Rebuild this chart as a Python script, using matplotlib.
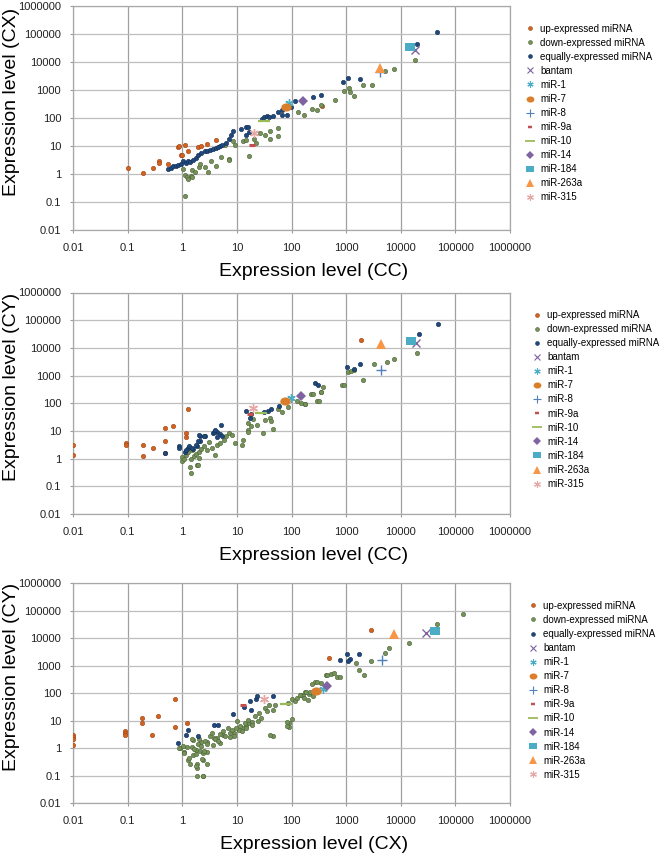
import matplotlib
matplotlib.use("Agg")
import matplotlib.pyplot as plt
from matplotlib.lines import Line2D
from matplotlib.path import Path
from matplotlib.transforms import Affine2D

plt.rcParams['font.family'] = ['Liberation Sans', 'DejaVu Sans']

# ---------------- data ----------------
tick_vals = [0.01, 0.1, 1, 10, 100, 1000, 10000, 100000, 1000000]
tick_labels = ['0.01', '0.1', '1', '10', '100', '1000', '10000', '100000', '1000000']

group_names = ['up-expressed miRNA', 'down-expressed miRNA', 'equally-expressed miRNA']
mir_names = ['bantam', 'miR-1', 'miR-7', 'miR-8', 'miR-9a', 'miR-10', 'miR-14',
             'miR-184', 'miR-263a', 'miR-315']

panel_xlabels = ['Expression level (CC)', 'Expression level (CC)', 'Expression level (CX)']
panel_ylabels = ['Expression level (CX)', 'Expression level (CY)', 'Expression level (CY)']

# Panel 1: CC (x) vs CX (y)
p1_up_x = [0.1, 0.19, 0.29, 0.38, 0.38, 0.56, 0.84, 0.86, 0.93, 1.0, 1.13, 1.25, 1.95, 2.2, 2.8, 4.1, 360]
p1_up_y = [1.7, 1.1, 1.7, 2.9, 2.5, 2.2, 9.0, 10, 4.8, 4.7, 10.5, 6.5, 8.9, 9.8, 12, 16, 270]
p1_down_x = [1.04, 1.12, 1.23, 1.29, 1.42, 1.54, 1.48, 1.7, 2.04, 2.1, 2.6, 3.0, 3.4, 4.1, 5.2, 7.1,
             7.1, 6.0, 9.4, 8.4, 12.8, 14.8, 17, 21, 22.5, 26, 33, 40, 40, 56, 56, 134, 170, 235,
             295, 340, 620, 920, 1150, 1180, 1370, 2000, 3000, 5100, 7500, 18500, 1.12]
p1_down_y = [1.5, 0.9, 0.78, 0.66, 0.87, 0.78, 1.4, 1.2, 1.8, 2.3, 1.8, 1.2, 2.8, 2.0, 4.0, 3.5,
             3.1, 11, 11, 15, 15, 17, 4.5, 18, 12.6, 29, 25, 33, 18, 44, 22, 170, 130, 215,
             190, 280, 430, 900, 1150, 850, 590, 1500, 1500, 4800, 5500, 12000, 0.17]
p1_eq_x = [0.56, 0.61, 0.69, 0.77, 0.85, 0.93, 1.04, 1.17, 1.29, 1.38, 1.58, 1.77, 1.95, 2.25, 2.6,
           2.85, 3.2, 3.6, 4.1, 4.5, 5.0, 5.4, 6.4, 7.1, 7.9, 8.4, 12, 14.4, 15.8, 14.8, 17, 29,
           32, 35, 39, 46, 56, 67, 68, 84, 97, 116, 250, 340, 890, 1060, 1800, 20000, 46000]
p1_eq_y = [1.5, 1.6, 1.9, 2.0, 2.1, 2.3, 2.8, 2.5, 3.0, 2.6, 3.2, 3.7, 4.9, 5.4, 6.5,
           6.8, 7.4, 7.8, 8.5, 9.2, 9.8, 11, 13, 18, 25, 33, 40, 46, 48, 25, 31, 92,
           109, 114, 109, 121, 160, 200, 131, 131, 245, 395, 560, 680, 1940, 2600, 2500, 43000, 120000]
p1_mir_x = [18500, 90, 78, 4100, 19, 31, 160, 15000, 4100, 20.5]
p1_mir_y = [27000, 330, 250, 4300, 11, 75, 410, 35000, 6200, 28]

# Panel 2: CC (x) vs CY (y)
p2_up_x = [0.01, 0.01, 0.095, 0.095, 0.19, 0.19, 0.29, 0.48, 0.67, 0.48, 0.48, 1.27, 1.17, 1.17, 1850]
p2_up_y = [3.1, 1.3, 3.8, 3.1, 3.1, 1.2, 2.4, 13, 15.6, 4.5, 1.6, 62, 8.3, 5.8, 19500]
p2_down_x = [0.98, 1.0, 1.07, 1.18, 1.29, 1.42, 1.52, 1.36, 1.63, 1.75, 1.9, 2.0, 2.0, 2.25, 2.5,
             2.85, 3.05, 3.5, 3.9, 4.3, 5.0, 5.7, 6.4, 7.1, 8.1, 9.3, 12.3, 13.2, 15.8, 16, 18,
             20, 23, 16, 30, 33, 40, 42, 45, 57, 66, 87, 128, 150, 175, 230, 290, 340, 850, 380,
             350, 320, 250, 180, 920, 1100, 1250, 1400, 2000, 3300, 5500, 7500, 20000, 1.45, 1.93]
p2_down_y = [1.15, 0.79, 0.98, 1.3, 1.7, 1.0, 2.0, 0.5, 1.2, 1.5, 0.59, 1.8, 1.05, 2.3, 2.8,
             2.1, 3.9, 2.4, 1.4, 3.1, 3.6, 4.8, 6.3, 8.3, 7.2, 3.6, 3.2, 4.8, 11, 20, 15,
             28, 17, 9, 8.3, 25, 29, 22, 12, 60, 50, 76, 120, 105, 94, 215, 125, 260, 460, 400,
             260, 120, 215, 92, 460, 1400, 1500, 1600, 680, 2700, 3000, 4100, 6500, 0.3, 0.59]
p2_eq_x = [0.49, 0.87, 0.87, 1.1, 1.3, 1.56, 1.84, 2.1, 2.6, 2.1, 3.7, 4.3, 4.9, 5.1, 4.4, 5.3,
           2.0, 2.5, 3.8, 4.0, 1.32, 1.52, 1.15, 1.75, 1.95,
           14.4, 17.5, 18, 31, 37, 42, 60, 270, 310, 1040, 1400, 1810, 21600, 49000]
p2_eq_y = [1.6, 2.8, 2.5, 1.7, 2.4, 2.2, 2.9, 6.6, 6.6, 4.5, 8.3, 8.9, 7.7, 17, 6.0, 6.5,
           7.3, 6.7, 9.5, 11, 2.8, 2.4, 2.1, 3.2, 4.5,
           54, 29, 41, 48, 54, 60, 79, 520, 460, 2000, 1750, 2700, 31000, 71000]
p2_mir_x = [19000, 97, 75, 4300, 17.5, 28, 150, 15500, 4300, 20]
p2_mir_y = [15500, 150, 120, 1600, 40, 44, 190, 18000, 13800, 66]

# Panel 3: CX (x) vs CY (y)
p3_up_x = [0.01, 0.01, 0.01, 0.01, 0.09, 0.09, 0.09, 0.18, 0.18, 0.28, 0.36, 0.73, 0.73, 1.2, 490, 2800]
p3_up_y = [3.0, 2.5, 2.1, 1.3, 4.3, 3.5, 3.0, 13, 8.1, 3.0, 15.5, 62, 6.2, 8.1, 2000, 20500]
p3_down_x = [0.91, 1.09, 1.09, 1.2, 1.27, 1.38, 1.56, 1.48, 1.84, 1.84, 1.84, 2.37, 2.42, 2.8,
             1.6, 2.2, 2.8, 1.8, 2.1, 2.4, 2.8, 3.6, 4.3, 4.9, 5.6, 7.5, 9.0, 11, 13, 15, 17, 19,
             46, 91, 91, 0.87, 1.04, 1.48, 1.63, 1.82, 1.95, 2.0, 2.25, 2.3, 2.5, 2.6, 2.85, 3.2,
             3.5, 3.8, 4.0, 4.6, 5.0, 5.5, 6.1, 6.9, 7.4, 8.1, 8.7, 10, 9.6, 11.5, 12.3, 14, 15,
             16, 18.7, 21.6, 24.8, 25.8, 28, 33, 35, 38, 46, 50, 41, 81, 81, 103, 87, 100, 118,
             125, 150, 160, 175, 210, 270, 430, 530, 670, 265, 340, 145, 170, 200, 185, 220, 250,
             235, 290, 455, 590, 760, 1500, 1700, 2100, 2900, 5200, 6000, 14000, 47000, 140000,
             1.75, 1.32, 2.37]
p3_down_y = [1.0, 0.75, 0.66, 1.15, 0.37, 0.28, 0.58, 1.15, 0.19, 0.28, 0.1, 0.1, 0.37, 0.28,
             2.0, 1.7, 1.7, 0.9, 0.8, 0.7, 0.75, 1.3, 2.4, 1.5, 3.0, 2.6, 3.5, 4.5, 5.5, 6.5, 8, 9,
             2.9, 8.5, 6.2, 1.05, 1.25, 2.1, 0.91, 0.6, 1.4, 2.1, 1.2, 0.4, 0.79, 1.8, 1.4, 2.75,
             3.6, 2.4, 2.1, 1.8, 3.2, 4.2, 2.75, 5.5, 3.6, 4.8, 2.75, 9.5, 5.5, 6.3, 4.2, 8.3, 5.5,
             11, 7.2, 14.5, 9.5, 19, 12.6, 29, 22, 38, 25, 38, 3.0, 8.9, 6.3, 12, 44, 60, 52,
             70, 90, 80, 110, 95, 125, 460, 520, 400, 250, 230, 87, 66, 57, 115, 115, 79,
             220, 260, 460, 540, 400, 1300, 700, 450, 1450, 3000, 4400, 6700, 32000, 74000,
             0.23, 0.43, 0.1]
p3_eq_x = [0.83, 1.17, 1.27, 1.98, 3.8, 4.6, 8.6, 13.7, 18.3, 17.5, 22, 23, 46, 760, 1030, 1170, 1100, 1740]
p3_eq_y = [1.5, 3.0, 4.7, 2.9, 7.1, 7.1, 18, 32, 25, 52, 60, 79, 79, 1600, 2800, 1700, 1500, 2750]
p3_mir_x = [29500, 370, 280, 4500, 13, 78, 450, 42000, 7400, 31]
p3_mir_y = [15800, 140, 120, 1600, 39, 40, 190, 18500, 14500, 62]

# ---------------- styles ----------------
ellipse = Path.unit_circle().transformed(Affine2D().scale(1.0, 0.78))
rect = Path([(-1, -0.7), (1, -0.7), (1, 0.7), (-1, 0.7), (-1, -0.7)],
            [Path.MOVETO, Path.LINETO, Path.LINETO, Path.LINETO, Path.CLOSEPOLY])

group_face = ['#D2621E', '#76925A', '#1F497D']
group_edge = ['#9C4416', '#4B6335', '#142F52']
mir_style = [
    dict(marker='x', color='#7F63A1', ms=6, mew=1.0),
    dict(marker=(6, 2, 0), color='#4BACC6', ms=6, mew=1.0),
    dict(marker=ellipse, color='#DB7E2C', ms=7.5, mew=0),
    dict(marker='+', color='#4F81BD', ms=7, mew=1.0),
    dict(marker='_', color='#C0504D', ms=4.5, mew=2.2),
    dict(marker='_', color='#9BBB59', ms=9, mew=1.6),
    dict(marker='D', color='#8064A2', ms=5, mew=0),
    dict(marker=rect, color='#4BACC6', ms=7.5, mew=0),
    dict(marker='^', color='#F79646', ms=7, mew=0),
    dict(marker=(6, 2, 0), color='#E6A8A6', ms=6.5, mew=1.0),
]

W, H = 662, 861
fig = plt.figure(figsize=(W / 100, H / 100), dpi=100)

panels = [
    (6, 230, p1_up_x, p1_up_y, p1_down_x, p1_down_y, p1_eq_x, p1_eq_y, p1_mir_x, p1_mir_y, 524),
    (292.5, 514, p2_up_x, p2_up_y, p2_down_x, p2_down_y, p2_eq_x, p2_eq_y, p2_mir_x, p2_mir_y, 531),
    (583.3, 803.3, p3_up_x, p3_up_y, p3_down_x, p3_down_y, p3_eq_x, p3_eq_y, p3_mir_x, p3_mir_y, 527),
]

left_px, right_px = 73, 510
for i, (top, bot, ux, uy, dx, dy, ex, ey, mx, my, leg_x) in enumerate(panels):
    ax = fig.add_axes([left_px / W, 1 - bot / H, (right_px - left_px) / W, (bot - top) / H])
    ax.set_xscale('log')
    ax.set_yscale('log')
    ax.set_xlim(0.01, 1000000)
    ax.set_ylim(0.01, 1000000)
    ax.set_xticks(tick_vals)
    ax.set_xticklabels(tick_labels)
    ax.set_yticks(tick_vals)
    ax.set_yticklabels(tick_labels)
    ax.minorticks_off()
    ax.tick_params(axis='both', labelsize=8, colors='#9A9A9A', labelcolor='#222222',
                   length=2.5, width=0.8, direction='out')
    ax.tick_params(axis='x', pad=7)
    ax.tick_params(axis='y', pad=6)
    ax.grid(True, axis='x', color='#A0A0A0', lw=0.9)
    ax.grid(True, axis='y', color='#BEBEBE', lw=0.9)
    ax.set_axisbelow(True)
    for s in ax.spines.values():
        s.set_color('#A8A8A8')
        s.set_linewidth(0.9)

    handles = []
    for gx, gy, fc, ec, name in [(ux, uy, group_face[0], group_edge[0], group_names[0]),
                                 (dx, dy, group_face[1], group_edge[1], group_names[1]),
                                 (ex, ey, group_face[2], group_edge[2], group_names[2])]:
        ax.scatter(gx, gy, s=10, c=fc, edgecolors=ec, linewidths=0.4, zorder=3)
        handles.append(Line2D([], [], ls='none', marker='o', ms=2.8, mfc=fc, mec=ec, mew=0.4,
                              label=name))
    for k, name in enumerate(mir_names):
        st = mir_style[k]
        ax.plot([mx[k]], [my[k]], ls='none', marker=st['marker'], color=st['color'],
                ms=st['ms'], mew=st['mew'], zorder=4)
        handles.append(Line2D([], [], ls='none', marker=st['marker'], color=st['color'],
                              ms=st['ms'] * 0.75, mew=st['mew'] * 0.8, label=name))

    ax.set_xlabel(panel_xlabels[i], fontsize=14)
    ax.set_ylabel(panel_ylabels[i], fontsize=14)
    h_ax = bot - top
    ax.xaxis.set_label_coords((314 - left_px) / (right_px - left_px), -41.5 / h_ax)
    ax.xaxis.label.set_va('center')
    ax.yaxis.set_label_coords((11 - left_px) / (right_px - left_px), 0.5 + 16 / h_ax)
    ax.yaxis.label.set_va('center')

    fig.legend(handles=handles, loc='upper left',
               bbox_to_anchor=(leg_x / W, 1 - (top + 17.5) / H),
               frameon=False, fontsize=7, handlelength=1.2, handletextpad=0.45,
               labelspacing=0.42, borderpad=0, borderaxespad=0)

fig.savefig('out.png', dpi=100)
